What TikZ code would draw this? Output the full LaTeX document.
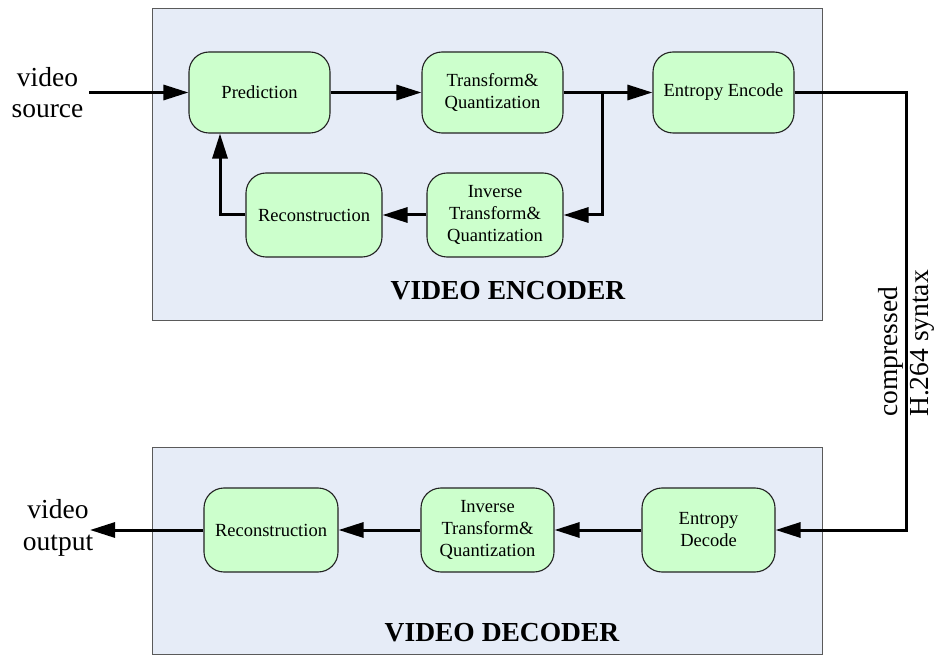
\documentclass[tikz,border=0pt]{standalone}
\usepackage{fontspec}
\setmainfont{Liberation Serif}
\usetikzlibrary{arrows.meta}

\definecolor{panelfill}{HTML}{E6ECF7}
\definecolor{panelline}{HTML}{5A5A5A}
\definecolor{blockfill}{HTML}{CCFFCC}
\definecolor{blockline}{HTML}{222222}

\tikzset{
  panel/.style={draw=panelline, line width=1pt, fill=panelfill},
  block/.style={draw=blockline, line width=1.1pt, fill=blockfill, rounded corners=20pt,
    align=center, inner sep=0pt, font=\fontsize{18.5}{22}\selectfont},
  flow/.style={line width=3pt, -{Triangle[length=25pt,width=15pt]}},
  plain/.style={line width=3pt},
  sidetext/.style={align=center, inner sep=0pt, font=\fontsize{27.5}{31.5}\selectfont},
  paneltitle/.style={inner sep=0pt, font=\fontsize{27.5}{31}\selectfont\bfseries}
}

\begin{document}
\begin{tikzpicture}[x=1pt, y=-1pt]
\useasboundingbox (0,0) rectangle (938,655);

% encoder and decoder panels
\draw[panel] (152,9) rectangle (822,321);
\draw[panel] (152,447) rectangle (822,654);
\node[paneltitle] (enctitle) at (508,291) {VIDEO ENCODER};
\node[paneltitle] (dectitle) at (502,633) {VIDEO DECODER};

% encoder blocks
\node[block, minimum width=141pt, minimum height=81pt] (pred) at (259.5,92.5) {Prediction};
\node[block, minimum width=141pt, minimum height=81pt] (tq)   at (492.5,92.5) {Transform\&\\Quantization};
\node[block, minimum width=141pt, minimum height=81pt] (ent)  at (723.5,92.5) {Entropy Encode};
\node[block, minimum width=136pt, minimum height=84pt] (rec)  at (314,215) {Reconstruction};
\node[block, minimum width=136pt, minimum height=84pt] (itq)  at (495,215) {Inverse\\Transform\&\\Quantization};

% decoder blocks
\node[block, minimum width=134pt, minimum height=84pt] (drec) at (271,530) {Reconstruction};
\node[block, minimum width=133pt, minimum height=84pt] (ditq) at (487.5,530) {Inverse\\Transform\&\\Quantization};
\node[block, minimum width=133pt, minimum height=84pt] (dent) at (708.5,530) {Entropy\\Decode};

% outside labels
\node[sidetext] (src) at (47.5,92.5) {video\\source};
\node[sidetext] (out) at (58,528) {video\\output};
\node[sidetext, rotate=90, anchor=west, align=left] (bits) at (906.5,417) {compressed\\H.264 syntax};

% encoder connections
\coordinate (srcend) at (89,92.5);
\coordinate (branch) at (602,92.5);
\draw[flow] (srcend) -- (pred.west);
\draw[flow] (pred.east) -- (tq.west);
\draw[flow] (tq.east) -- (ent.west);
\draw[flow] (branch) |- (itq.east);
\draw[flow] (itq.west) -- (rec.east);
\draw[flow] (rec.west) -| ([xshift=-39.5pt]pred.south);

% channel to the decoder
\draw[flow] (ent.east) -- ++(112,0) |- (dent.east);

% decoder connections
\coordinate (outend) at (90,530);
\draw[flow] (dent.west) -- (ditq.east);
\draw[flow] (ditq.west) -- (drec.east);
\draw[flow] (drec.west) -- (outend);
\end{tikzpicture}
\end{document}
